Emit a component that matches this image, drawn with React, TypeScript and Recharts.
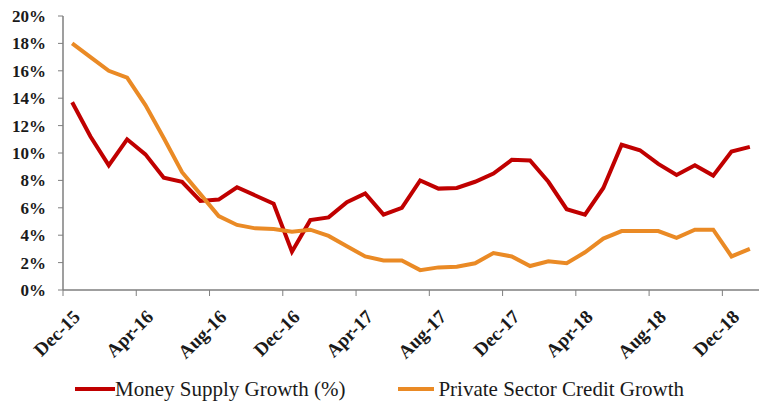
import React from 'react';
import { LineChart, Line, XAxis, YAxis, Legend } from 'recharts';

const months = [
  'Dec-15', 'Jan-16', 'Feb-16', 'Mar-16', 'Apr-16', 'May-16', 'Jun-16', 'Jul-16',
  'Aug-16', 'Sep-16', 'Oct-16', 'Nov-16', 'Dec-16', 'Jan-17', 'Feb-17', 'Mar-17',
  'Apr-17', 'May-17', 'Jun-17', 'Jul-17', 'Aug-17', 'Sep-17', 'Oct-17', 'Nov-17',
  'Dec-17', 'Jan-18', 'Feb-18', 'Mar-18', 'Apr-18', 'May-18', 'Jun-18', 'Jul-18',
  'Aug-18', 'Sep-18', 'Oct-18', 'Nov-18', 'Dec-18', 'Jan-19',
];

const moneySupply = [
  13.7, 11.2, 9.1, 11.0, 9.9, 8.2, 7.9, 6.5, 6.6, 7.5,
  6.9, 6.3, 2.8, 5.1, 5.3, 6.4, 7.05, 5.5, 6.0, 8.0,
  7.4, 7.45, 7.9, 8.5, 9.5, 9.45, 7.9, 5.9, 5.5, 7.45,
  10.6, 10.2, 9.2, 8.4, 9.1, 8.35, 10.1, 10.45,
];

const privateCredit = [
  18.0, 17.0, 16.0, 15.5, 13.5, 11.1, 8.6, 7.0, 5.4, 4.75,
  4.5, 4.45, 4.25, 4.4, 3.95, 3.2, 2.45, 2.15, 2.15, 1.45,
  1.65, 1.7, 1.95, 2.7, 2.45, 1.75, 2.1, 1.95, 2.75, 3.75,
  4.3, 4.3, 4.3, 3.8, 4.4, 4.4, 2.45, 3.0,
];

const yTicks = [0, 2, 4, 6, 8, 10, 12, 14, 16, 18, 20];
const labelEvery = 4;

const data = months.map((m, i) => ({
  i,
  month: m,
  money: moneySupply[i],
  credit: privateCredit[i],
}));

// label ticks on category centres, tick marks on category boundaries
const labelTicks = months.map((_, i) => i).filter((i) => i % labelEvery === 0);
const markTicks = [-0.5, ...labelTicks.slice(1).map((i) => i - 0.5)];
const xTicks = [...markTicks, ...labelTicks].sort((a, b) => a - b);

const RED = '#C00000';
const ORANGE = '#EA8A25';
const AXIS = '#7F7F7F';
const FONT = '"Liberation Serif", "DejaVu Serif", serif';

const XTick = (props: any) => {
  const { x, y, payload } = props;
  const v = payload.value;
  const axisY = y - 6;
  if (!Number.isInteger(v)) {
    return <line x1={x} y1={axisY} x2={x} y2={axisY + 6} stroke={AXIS} strokeWidth={1} />;
  }
  const ax = x + 9;
  const ay = axisY + 28;
  return (
    <text
      x={ax}
      y={ay}
      textAnchor="end"
      transform={`rotate(-45, ${ax}, ${ay})`}
      fontFamily={FONT}
      fontWeight="bold"
      fontSize={19}
      fill="#1A1A1A"
    >
      {months[v]}
    </text>
  );
};

const LegendContent = () => (
  <div
    style={{
      display: 'flex',
      justifyContent: 'center',
      alignItems: 'center',
      height: 46,
      paddingTop: 12,
      boxSizing: 'border-box',
      fontFamily: FONT,
      fontSize: 21,
      color: '#1A1A1A',
    }}
  >
    <span style={{ display: 'flex', alignItems: 'center', marginRight: 53 }}>
      <span style={{ width: 40, height: 4, background: RED, display: 'inline-block' }} />
      <span>Money Supply Growth (%)</span>
    </span>
    <span style={{ display: 'flex', alignItems: 'center' }}>
      <span style={{ width: 36, height: 4, background: ORANGE, display: 'inline-block', marginRight: 4 }} />
      <span>Private Sector Credit Growth</span>
    </span>
  </div>
);

export default function App() {
  return (
    <div style={{ position: 'absolute', left: 0, top: 0, background: '#fff' }}>
      <LineChart
        width={766}
        height={406}
        data={data}
        margin={{ top: 16, right: 7, bottom: 0, left: 0 }}
      >
        <XAxis
          dataKey="i"
          type="number"
          domain={[-0.5, months.length - 0.5]}
          ticks={xTicks}
          interval={0}
          tick={<XTick />}
          tickLine={false}
          tickSize={6}
          tickMargin={0}
          height={70}
          stroke={AXIS}
          axisLine={{ stroke: AXIS, strokeWidth: 1.5 }}
        />
        <YAxis
          domain={[0, 20]}
          ticks={yTicks}
          interval={0}
          width={63}
          tickFormatter={(v) => `${v}%`}
          tickSize={5}
          tickMargin={12}
          axisLine={{ stroke: AXIS, strokeWidth: 1.5 }}
          tickLine={{ stroke: AXIS }}
          tick={{ fontFamily: FONT, fontWeight: 'bold', fontSize: 17, fill: '#1A1A1A' }}
        />
        <Legend verticalAlign="bottom" height={46} content={<LegendContent />} />
        <Line
          type="linear"
          dataKey="money"
          stroke={RED}
          strokeWidth={4}
          dot={false}
          isAnimationActive={false}
        />
        <Line
          type="linear"
          dataKey="credit"
          stroke={ORANGE}
          strokeWidth={4}
          dot={false}
          isAnimationActive={false}
        />
      </LineChart>
    </div>
  );
}
